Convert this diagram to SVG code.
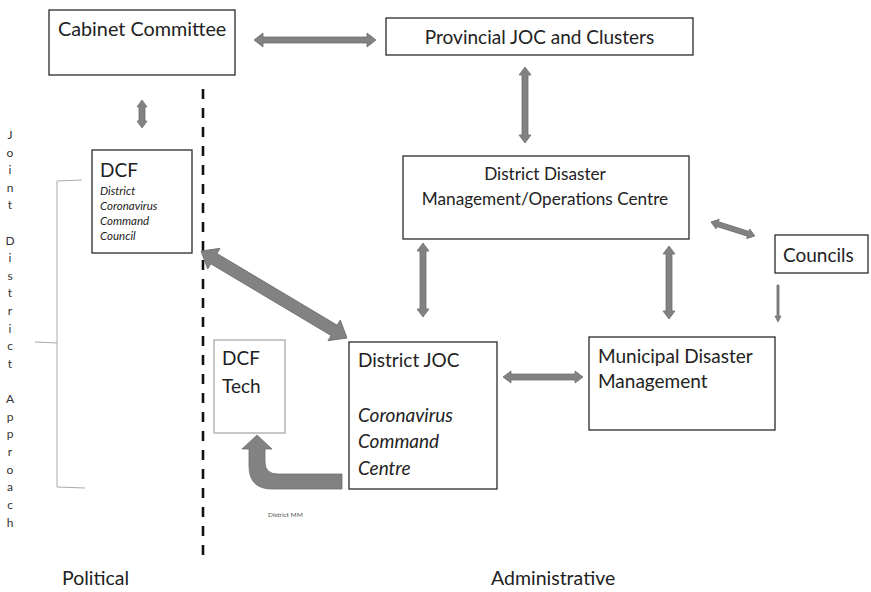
<svg xmlns="http://www.w3.org/2000/svg" width="871" height="592" viewBox="0 0 871 592">
<style>
text{font-family:Lato,"Liberation Sans",sans-serif;fill:#222}
.box{fill:#fff;stroke:#2a2a2a;stroke-width:1.3}
.lt{fill:#fff;stroke:#aaa;stroke-width:1.3}
.t{font-size:19px}
.it{font-style:italic}
.sm{font-size:11.5px;font-style:italic}
.arr{fill:#828282;stroke:#6e6e6e;stroke-width:0.8}
.vt{font-size:12px;text-anchor:middle;fill:#333}
.bl{font-size:19.5px}
</style>
<rect width="871" height="592" fill="#fff"/>
<g id="divider">
<line x1="203" y1="89" x2="203" y2="562" stroke="#111" stroke-width="2.6" stroke-dasharray="10 9"/>
</g>
<g id="cabinet"><rect class="box" x="49" y="10" width="186" height="65"/><text x="58" y="36" style="font-size:19.8px">Cabinet Committee</text></g>
<g id="provincial"><rect class="box" x="386" y="18" width="307" height="37"/><text class="t" x="539.5" y="44" text-anchor="middle">Provincial JOC and Clusters</text></g>
<g id="ddmoc"><rect class="box" x="403" y="156" width="286" height="83"/><text x="545" y="180" text-anchor="middle" style="font-size:17.2px">District Disaster</text><text x="545" y="205" text-anchor="middle" style="font-size:17.2px">Management/Operations Centre</text></g>
<g id="councils"><rect class="box" x="775" y="235" width="93" height="38"/><text class="t" x="783" y="262">Councils</text></g>
<g id="dcf"><rect class="box" x="92" y="150" width="100" height="103"/><text class="t" x="100" y="177">DCF</text><text class="sm" x="100" y="195">District</text><text class="sm" x="100" y="210">Coronavirus</text><text class="sm" x="100" y="225">Command</text><text class="sm" x="100" y="240">Council</text></g>
<g id="dcftech"><rect class="lt" x="214" y="340" width="71" height="93"/><text class="t" x="222" y="365">DCF</text><text class="t" x="222" y="393">Tech</text></g>
<g id="districtjoc"><rect class="box" x="349" y="342" width="148" height="147"/><text class="t" x="358" y="367">District JOC</text><text class="t it" x="358" y="422">Coronavirus</text><text class="t it" x="358" y="448">Command</text><text class="t it" x="358" y="475">Centre</text></g>
<g id="municipal"><rect class="box" x="589" y="337" width="186" height="93"/><text class="t" x="598" y="363">Municipal Disaster</text><text class="t" x="598" y="388">Management</text></g>
<g id="side-label">
<path d="M82,180 L57,181 L57,487 L85,488 M57,343 L35,342" fill="none" stroke="#aaa" stroke-width="1"/>
<text class="vt" x="10" y="139">J</text><text class="vt" x="10" y="157">o</text><text class="vt" x="10" y="174">i</text><text class="vt" x="10" y="192">n</text><text class="vt" x="10" y="209">t</text>
<text class="vt" x="10" y="245">D</text><text class="vt" x="10" y="262">i</text><text class="vt" x="10" y="280">s</text><text class="vt" x="10" y="297">t</text><text class="vt" x="10" y="315">r</text><text class="vt" x="10" y="333">i</text><text class="vt" x="10" y="350">c</text><text class="vt" x="10" y="368">t</text>
<text class="vt" x="10" y="403">A</text><text class="vt" x="10" y="421">p</text><text class="vt" x="10" y="438">p</text><text class="vt" x="10" y="456">r</text><text class="vt" x="10" y="474">o</text><text class="vt" x="10" y="491">a</text><text class="vt" x="10" y="509">c</text><text class="vt" x="10" y="527">h</text>
</g>
<g id="labels">
<text class="bl" x="62" y="585">Political</text>
<text class="bl" x="491" y="585">Administrative</text>
<text x="268" y="517" style="font-size:6.5px;fill:#555">District MM</text>
</g>
<g id="connectors">
<polygon class="arr" points="254,40 263,33 263,37 367,37 367,33 376,40 367,47 367,43 263,43 263,47"/>
<polygon class="arr" points="142,100 147,107 145,107 145,121 147,121 142,128 137,121 139,121 139,107 137,107"/>
<polygon class="arr" points="525,67 531,75 528,75 528,135 531,135 525,143 519,135 522,135 522,75 519,75"/>
<polygon class="arr" points="423,243 429,251 426,251 426,309 429,309 423,317 417,309 420,309 420,251 417,251"/>
<polygon class="arr" points="669,246 675,254 672,254 672,311 675,311 669,319 663,311 666,311 666,254 663,254"/>
<polygon class="arr" points="503,377 511,371 511,374 575,374 575,371 583,377 575,383 575,380 511,380 511,383"/>
<polygon class="arr" transform="translate(711,222) rotate(17.6)" points="0,0 7,-5 7,-2.5 39,-2.5 39,-5 46,0 39,5 39,2.5 7,2.5 7,5"/>
<polygon class="arr" transform="translate(201,251) rotate(30.8)" points="0,0 15,-12 15,-6 155,-6 155,-12 170,0 155,12 155,6 15,6 15,12"/>
<polygon class="arr" points="777,285 779,285 779,316 781,316 778,322 775,316 777,316"/>
<path class="arr" d="M342,474 L278,474 Q265,474 265,462 L265,449 L272,449 L257,435 L242,449 L249,449 L249,466 Q249,489 272,489 L342,489 Z"/>
</g>
</svg>
